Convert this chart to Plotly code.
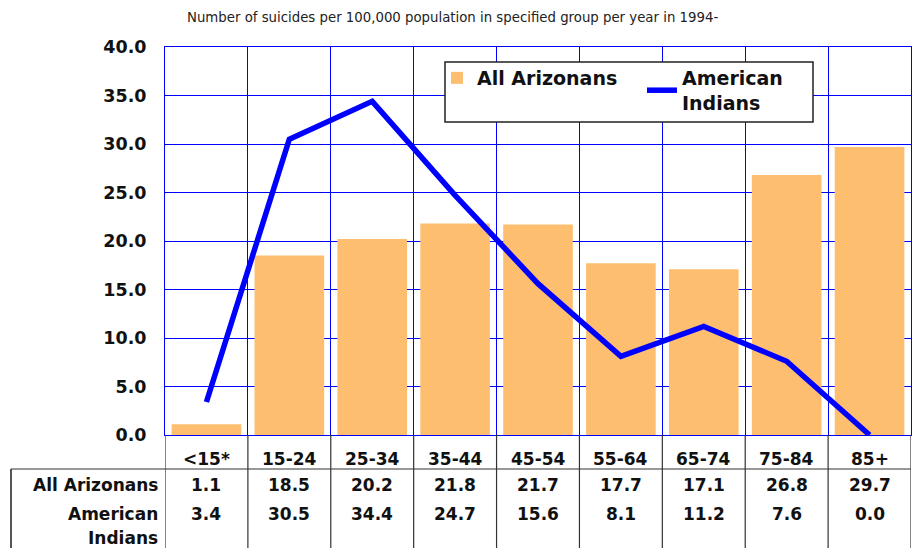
import plotly.graph_objects as go

categories = ["<15*", "15-24", "25-34", "35-44", "45-54", "55-64", "65-74", "75-84", "85+"]
all_arizonans = [1.1, 18.5, 20.2, 21.8, 21.7, 17.7, 17.1, 26.8, 29.7]
american_indians = [3.4, 30.5, 34.4, 24.7, 15.6, 8.1, 11.2, 7.6, 0.0]
title_text = "Number of suicides per 100,000 population in specified group per year in 1994-"

W, H = 912, 548
L, R, T, B = 165, 1, 47, 113
PH = H - T - B  # plot height px
PW = W - L - R

def py(ypx):
    return (H - B - ypx) / PH

def px_(xpx):
    return (xpx - L) / PW

FONT = "DejaVu Sans"
xs = list(range(len(categories)))

fig = go.Figure()
fig.add_trace(go.Bar(
    x=xs, y=all_arizonans, name="All Arizonans",
    marker=dict(color="#FDBF6F", line=dict(width=0)), width=0.84,
))
fig.add_trace(go.Scatter(
    x=xs, y=american_indians, name="American<br>Indians", mode="lines",
    line=dict(color="#0000FF", width=5.5),
))

shapes = []
# legend box
shapes.append(dict(type="rect", xref="paper", yref="paper", x0=px_(445), x1=px_(813),
                   y0=py(122), y1=py(62), fillcolor="white", layer="above",
                   line=dict(color="#222222", width=1.5)))
# vertical table lines at category boundaries
for i in range(len(categories) + 1):
    shapes.append(dict(type="line", xref="x", yref="paper", x0=i - 0.5, x1=i - 0.5,
                       y0=0, y1=py(H), line=dict(color="#333333", width=1.2)))
# table left border and horizontal line
shapes.append(dict(type="line", xref="paper", yref="paper", x0=px_(11), x1=px_(11),
                   y0=py(469), y1=py(H), line=dict(color="#555555", width=2)))
shapes.append(dict(type="line", xref="paper", yref="paper", x0=px_(11), x1=1,
                   y0=py(469), y1=py(469), line=dict(color="#333333", width=1.2)))

ann = []
ann.append(dict(text=title_text, xref="paper", yref="paper", x=px_(452), y=py(17),
                showarrow=False, xanchor="center", yanchor="middle",
                font=dict(family=FONT, size=13.3, color="#222222")))
bold = dict(family=FONT, size=17, color="#111111", weight="bold")
for i, c in enumerate(categories):
    ann.append(dict(text=c, x=i, xref="x", yref="paper", y=py(459), showarrow=False,
                    xanchor="center", yanchor="middle", font=bold))
    ann.append(dict(text=f"{all_arizonans[i]:.1f}", x=i, xref="x", yref="paper", y=py(485),
                    showarrow=False, xanchor="center", yanchor="middle", font=bold))
    ann.append(dict(text=f"{american_indians[i]:.1f}", x=i, xref="x", yref="paper", y=py(514),
                    showarrow=False, xanchor="center", yanchor="middle", font=bold))
lab = dict(family=FONT, size=17, color="#111111", weight="bold")
for txt, ypx in [("All Arizonans", 485), ("American", 514), ("Indians", 538)]:
    ann.append(dict(text=txt, xref="paper", yref="paper", x=px_(160), y=py(ypx),
                    showarrow=False, xanchor="right", yanchor="middle", font=lab))

fig.update_layout(
    width=W, height=H,
    margin=dict(l=L, r=R, t=T, b=B),
    paper_bgcolor="white", plot_bgcolor="white",
    showlegend=True,
    legend=dict(orientation="h", x=px_(437), y=py(59), xanchor="left", yanchor="top",
                bgcolor="rgba(0,0,0,0)", borderwidth=0,
                font=dict(family=FONT, size=19, color="#111111", weight="bold"),
                entrywidth=160, traceorder="normal"),
    xaxis=dict(range=[-0.5, 8.5], tickvals=[i - 0.5 for i in range(len(categories) + 1)],
               showticklabels=False, showgrid=True, gridcolor="#0000FF", gridwidth=1,
               zeroline=False, showline=True, linecolor="#0000FF", mirror=True, ticks=""),
    yaxis=dict(range=[0, 40], dtick=5, tickformat=".1f", showgrid=True, gridcolor="#0000FF",
               gridwidth=1, zeroline=False, showline=True, linecolor="#0000FF", mirror=True,
               ticks="outside", ticklen=14, tickcolor="rgba(0,0,0,0)",
               tickfont=dict(family=FONT, size=17.5, color="#111111", weight="bold")),
    shapes=shapes, annotations=ann,
)

fig.write_html("out.html", config={"displayModeBar": False},
               post_script="document.body.style.margin='0px';")
